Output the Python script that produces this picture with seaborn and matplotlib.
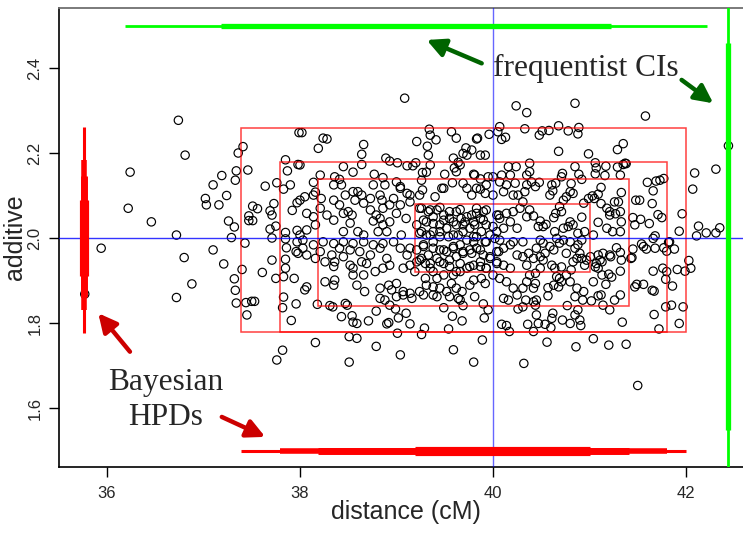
import matplotlib
matplotlib.use("Agg")
import matplotlib.pyplot as plt
import pandas as pd
import seaborn as sns

# Posterior draws of the QTL: location (cM) and additive effect
distance = [
    36.74, 36.81, 36.24, 36.22, 36.46, 36.72, 37.41, 37.36, 37.46, 37.34, 37.33, 37.19, 37.10, 37.02, 37.03,
    37.16, 37.24, 37.26, 37.32, 37.29, 37.51, 37.56, 37.47, 37.51, 37.47, 37.64, 37.76, 37.83, 37.90, 37.85,
    37.87, 37.98, 37.99, 37.73, 37.69, 37.71, 37.92, 37.97, 37.75, 37.69, 37.85, 37.97, 37.71,
    35.94, 36.80, 37.10, 37.21, 36.88, 36.72, 37.32, 37.40, 37.33, 37.34, 37.44, 37.50, 37.53, 37.45, 37.43,
    37.61, 37.71, 37.75, 37.83, 37.85, 37.85, 37.86, 37.94, 37.83, 37.82, 37.96, 37.91, 37.82, 37.76, 37.96,
    37.98, 37.85, 37.97, 35.77,
    40.85, 40.35, 41.58, 40.33, 40.48, 40.51, 40.58, 40.68, 40.78, 40.88, 40.89, 40.68, 40.99, 41.29, 41.35,
    42.44, 42.31, 42.09, 42.07, 41.96, 42.13, 42.35, 42.31, 42.21, 42.11, 41.93, 41.60, 41.66, 41.69, 41.73,
    41.77, 41.65, 41.71, 41.75, 41.62, 41.53, 41.48, 41.52, 41.45, 41.47, 41.68, 41.37, 41.38, 41.35, 41.29,
    41.32, 41.17, 41.16, 41.07, 41.06, 41.06, 40.85, 40.89, 40.92, 40.72, 40.71, 40.38, 40.38, 40.35, 40.48,
    40.44, 40.40, 40.33, 40.35, 40.61, 40.65, 40.62, 40.59, 40.81, 40.80, 40.83, 41.12, 41.09, 41.05, 41.03,
    41.30, 41.26, 41.33, 41.12, 41.18, 41.21, 41.21, 41.27, 41.32, 41.33, 41.32, 41.09, 41.18, 41.24, 40.92,
    40.80, 40.78, 40.83, 40.69, 40.71, 40.65, 40.63, 40.49, 40.52, 40.55, 40.47, 40.38, 40.42, 40.35, 40.31,
    40.28, 40.95, 40.88, 41.04, 40.73, 40.64, 40.73, 40.76, 40.99, 40.94,
    41.82, 41.88, 42.03, 42.05, 41.99, 41.91, 41.80, 41.79, 41.86, 41.76, 41.66, 41.97, 41.85, 41.79, 41.93,
    41.72, 41.67, 41.65, 41.67, 41.56, 41.49, 41.47, 41.34, 41.38, 41.20, 41.04, 40.86, 40.56, 40.32, 41.50,
    41.80, 41.83, 41.77, 41.68, 41.66, 41.56, 41.59, 41.54, 41.45, 41.44, 41.43, 41.32, 41.33, 41.32, 41.28,
    41.21, 41.22, 41.14, 41.13, 41.13, 41.20, 41.23, 41.17, 41.04, 41.32, 41.26, 41.14, 41.21, 41.09, 41.12,
    41.02, 40.93, 40.94, 40.87, 40.85, 40.88, 40.85, 40.90, 40.91, 40.77, 40.80, 40.72, 40.62, 40.61, 40.60,
    40.54, 40.47, 40.42, 40.36, 40.45, 40.44, 40.42, 40.45, 40.34, 40.31, 40.57, 40.57, 40.63, 40.68, 40.71,
    40.80, 40.76, 40.66, 40.69, 40.44, 40.35, 40.31, 40.42, 40.81, 40.71, 40.83, 40.87, 40.76, 40.90, 40.97,
    41.01, 41.07, 41.09, 41.06, 41.11, 41.09, 40.49, 40.52, 40.54, 40.63, 40.59, 40.64, 40.61, 40.49, 40.44,
    40.38, 40.35, 40.31, 40.37, 40.42, 40.45, 40.52, 40.69, 40.80, 40.88, 40.92, 40.73, 40.66, 40.49, 40.31,
    40.85, 40.92, 40.95,
    39.085, 40.24, 38.02, 38.24, 38.28, 38.19, 38.66, 38.64, 38.64, 39.34, 39.35, 39.32, 39.33, 39.41, 39.21,
    39.57, 39.62, 39.72, 39.78, 39.69, 39.73, 39.84, 39.83, 39.96, 40.07, 40.05, 40.13, 40.09, 39.87, 39.92,
    38.89, 38.93, 39.01, 39.11, 39.17, 39.20, 39.35, 39.59, 39.64, 39.66, 39.62, 39.60, 38.45, 38.55, 38.36,
    38.41, 38.21, 38.14, 38.00, 38.77, 38.86, 38.88, 39.00, 39.04, 39.11, 39.04, 39.14, 39.27, 39.31, 39.26,
    39.27, 39.24, 39.40, 39.47, 39.49, 39.50, 39.58, 39.69, 39.73, 39.80, 39.81, 39.87, 39.83, 39.87, 39.78,
    40.00, 40.09, 40.18, 40.16, 40.24, 40.21, 40.11, 40.00, 39.92, 38.76, 38.83, 38.85, 38.73, 38.64, 38.60,
    38.55, 38.57, 38.47, 38.35, 38.35, 38.43, 38.14, 38.16, 38.22, 38.05, 38.00, 38.07, 38.14, 38.16, 38.07,
    38.00, 38.28, 38.35, 38.45, 38.50, 38.54, 38.52, 38.45, 38.60, 38.66, 38.76, 38.83, 38.86, 38.93, 39.00,
    39.10, 39.05, 38.90, 38.81, 39.24, 39.33, 39.38, 39.31, 39.42, 39.49, 39.55, 39.62, 39.67, 39.71, 39.62,
    39.52, 39.45, 39.38, 39.31, 39.59, 39.69, 39.76, 39.81, 39.78, 39.83, 39.90, 39.87, 39.93, 39.88, 39.80,
    39.97, 40.04, 40.07, 40.06, 40.14, 40.21, 40.18, 40.25, 40.11, 39.21, 39.26, 39.45, 39.95, 40.07, 39.93,
    40.14, 40.23, 40.26, 39.14, 39.04, 38.97, 38.93, 38.86, 38.79, 38.73, 38.66, 38.41, 38.21,
    38.16, 38.51, 38.51, 38.59, 38.79, 39.04, 39.01, 39.26, 39.29, 39.54, 39.59, 39.80, 39.89, 40.09, 40.14,
    40.17, 38.43, 38.55, 38.59, 38.54, 38.71, 38.90, 38.92, 39.02, 39.14, 39.10, 38.99, 38.79, 38.49, 38.47,
    38.31, 38.34, 38.18, 39.49, 39.58, 39.68, 39.91, 39.95, 39.90, 39.69, 39.66, 39.81, 40.11, 40.16, 40.26,
    39.55, 39.64, 39.42, 39.38, 39.28, 39.16, 39.07, 39.00, 38.88, 38.83, 38.93,
    38.03, 38.07, 38.16, 38.26, 38.35, 38.36, 38.33, 38.45, 38.52, 38.55, 38.64, 38.69, 38.83, 38.90, 38.93,
    39.04, 39.11, 39.07, 39.14, 39.19, 39.21, 38.86, 38.78, 38.66, 38.55, 38.26, 38.35, 38.36, 38.07, 38.05,
    38.59, 38.67, 38.83, 38.92, 38.95, 39.00, 39.07, 39.14, 39.24, 39.31, 39.30, 39.38, 39.45, 39.52, 39.57,
    39.62, 39.68, 39.76, 39.80, 39.88, 39.92, 40.00, 40.07, 40.14, 40.21, 40.25, 40.18, 40.11, 40.04, 39.93,
    39.87, 39.80, 39.73, 39.66, 39.59, 39.49, 39.42, 39.35, 39.30, 39.26, 39.33, 39.42, 39.49, 39.55, 39.62,
    39.69, 39.76, 39.83, 39.90, 39.97, 40.04, 40.11, 40.18, 40.25, 40.21, 40.07, 39.93, 39.80, 39.66, 39.59,
    39.52, 39.45, 39.38, 39.28, 39.21, 39.14, 38.97, 38.86, 38.76, 38.66, 38.55, 38.45, 38.35, 38.24, 38.14,
    38.03, 38.62, 38.73, 38.21, 38.52, 38.41,
    39.26, 39.35, 39.45, 39.55, 39.66, 39.73, 39.83, 39.93, 40.04, 39.28, 39.38, 39.49, 39.59, 39.69, 39.80,
    39.90, 40.00, 39.24, 39.35, 39.45, 39.54, 39.64, 39.73, 39.83, 39.92, 40.02, 39.28, 39.38, 39.49, 39.59,
    39.69, 39.78, 39.87, 39.97, 40.06, 39.24, 39.35, 39.45, 39.55, 39.66, 39.76, 39.87, 39.93, 40.04, 39.38,
    39.62,
]
additive = [
    2.277, 2.195, 2.155, 2.070, 2.038, 2.007, 2.215, 2.200, 2.160, 2.158, 2.136, 2.147, 2.125, 2.093, 2.078,
    2.078, 2.100, 2.040, 2.026, 2.001, 2.075, 2.069, 2.052, 2.041, 2.041, 2.122, 2.130, 2.115, 2.125, 2.184,
    2.158, 2.173, 2.248, 2.081, 2.064, 2.054, 2.065, 2.083, 2.028, 2.021, 2.013, 2.018, 2.000,
    1.976, 1.954, 1.972, 1.939, 1.892, 1.860, 1.904, 1.926, 1.877, 1.847, 1.848, 1.851, 1.851, 1.819, 1.988,
    1.919, 1.948, 1.905, 1.909, 1.929, 1.950, 1.977, 1.905, 1.861, 1.836, 1.845, 1.806, 1.736, 1.713, 1.968,
    1.964, 1.998, 1.991, 1.868,
    2.317, 2.295, 2.287, 2.257, 2.242, 2.252, 2.253, 2.264, 2.252, 2.245, 2.260, 2.204, 2.198, 2.208, 2.222,
    2.217, 2.162, 2.153, 2.115, 2.057, 2.028, 2.024, 2.012, 2.012, 2.005, 2.016, 2.131, 2.111, 2.134, 2.136,
    2.140, 2.081, 2.055, 2.048, 2.034, 2.044, 2.089, 2.089, 2.048, 2.031, 2.005, 2.176, 2.175, 2.173, 2.167,
    2.148, 2.169, 2.147, 2.165, 2.151, 2.177, 2.168, 2.150, 2.138, 2.152, 2.144, 2.176, 2.156, 2.148, 2.131,
    2.121, 2.132, 2.109, 2.125, 2.125, 2.129, 2.111, 2.101, 2.128, 2.109, 2.105, 2.119, 2.103, 2.093, 2.099,
    2.085, 2.085, 2.107, 2.081, 2.070, 2.062, 2.054, 2.057, 2.062, 2.038, 2.015, 2.037, 2.023, 2.015, 2.049,
    2.038, 2.027, 2.031, 2.074, 2.062, 2.058, 2.048, 2.040, 2.027, 2.032, 2.027, 2.066, 2.052, 2.050, 2.085,
    2.070, 2.015, 2.011, 2.007, 2.023, 2.015, 2.089, 2.097, 2.093, 2.082,
    1.990, 1.974, 1.947, 1.929, 1.922, 1.926, 1.921, 1.903, 1.887, 1.929, 1.922, 1.838, 1.842, 1.838, 1.799,
    1.786, 1.820, 1.877, 1.875, 1.891, 1.891, 1.885, 1.802, 1.750, 1.748, 1.763, 1.744, 1.755, 1.705, 1.653,
    1.969, 1.991, 1.977, 1.976, 1.999, 1.980, 1.974, 1.986, 1.974, 1.954, 1.952, 1.966, 1.948, 1.922, 1.977,
    1.960, 1.956, 1.964, 1.944, 1.913, 1.915, 1.908, 1.891, 1.897, 1.866, 1.854, 1.842, 1.831, 1.864, 1.866,
    1.852, 1.854, 1.874, 1.882, 1.862, 1.831, 1.819, 1.807, 1.794, 1.841, 1.799, 1.807, 1.823, 1.811, 1.789,
    1.797, 1.799, 1.780, 1.797, 1.819, 1.842, 1.850, 1.854, 1.854, 1.838, 1.864, 1.883, 1.889, 1.885, 1.897,
    1.897, 1.913, 1.909, 1.905, 1.893, 1.897, 1.882, 1.882, 1.925, 1.932, 1.944, 1.952, 1.964, 1.964, 1.948,
    1.956, 1.940, 1.929, 1.932, 1.948, 1.960, 1.956, 1.948, 1.964, 1.972, 1.980, 1.929, 1.936, 1.929, 1.917,
    1.913, 1.936, 1.956, 1.964, 1.952, 1.976, 1.988, 1.988, 1.991, 1.984, 1.995, 1.995, 1.999, 1.995, 1.991,
    1.976, 1.952, 1.936,
    2.329, 2.311, 2.248, 2.235, 2.233, 2.211, 2.220, 2.197, 2.173, 2.256, 2.242, 2.216, 2.195, 2.231, 2.227,
    2.250, 2.235, 2.212, 2.207, 2.199, 2.195, 2.235, 2.233, 2.244, 2.262, 2.250, 2.237, 2.232, 2.195, 2.195,
    2.188, 2.181, 2.177, 2.170, 2.170, 2.177, 2.172, 2.188, 2.178, 2.172, 2.156, 2.165, 2.168, 2.155, 2.144,
    2.138, 2.148, 2.131, 2.172, 2.150, 2.142, 2.125, 2.132, 2.121, 2.105, 2.117, 2.101, 2.154, 2.155, 2.136,
    2.113, 2.101, 2.097, 2.117, 2.117, 2.150, 2.130, 2.129, 2.117, 2.150, 2.148, 2.139, 2.117, 2.115, 2.101,
    2.144, 2.148, 2.148, 2.168, 2.168, 2.101, 2.109, 2.101, 2.105, 2.125, 2.101, 2.089, 2.093, 2.101, 2.109,
    2.109, 2.089, 2.101, 2.125, 2.089, 2.125, 2.101, 2.108, 2.093, 2.097, 2.089, 2.058, 2.050, 2.031, 2.019,
    2.007, 2.054, 2.042, 2.058, 2.062, 2.054, 2.035, 2.015, 2.015, 2.007, 2.040, 2.046, 2.031, 2.038, 2.058,
    2.046, 2.007, 2.015, 2.015, 2.070, 2.062, 2.050, 2.038, 2.066, 2.054, 2.046, 2.062, 2.046, 2.038, 2.031,
    2.023, 2.031, 2.015, 2.007, 2.007, 2.015, 2.023, 2.031, 2.054, 2.070, 2.062, 2.046, 2.031, 2.015, 2.003,
    2.007, 2.015, 2.046, 2.054, 2.058, 2.062, 2.038, 2.023, 2.023, 2.031, 2.015, 2.003, 2.144, 2.132, 2.125,
    2.125, 2.129, 2.101, 2.085, 2.078, 2.093, 2.078, 2.070, 2.054, 2.066, 2.082, 2.078, 2.070,
    1.754, 1.708, 1.768, 1.764, 1.745, 1.725, 1.776, 1.773, 1.788, 1.786, 1.737, 1.708, 1.760, 1.797, 1.794,
    1.780, 1.815, 1.802, 1.799, 1.817, 1.805, 1.798, 1.801, 1.812, 1.798, 1.823, 1.833, 1.828, 1.842, 1.846,
    1.841, 1.838, 1.844, 1.836, 1.816, 1.805, 1.812, 1.831, 1.845, 1.841, 1.854, 1.862, 1.858, 1.854, 1.833,
    1.862, 1.858, 1.862, 1.866, 1.866, 1.858, 1.866, 1.862, 1.854, 1.858, 1.842,
    1.976, 1.960, 1.952, 1.944, 1.933, 1.944, 1.960, 1.956, 1.936, 1.929, 1.944, 1.940, 1.976, 1.952, 1.936,
    1.976, 1.960, 1.929, 1.936, 1.921, 1.944, 1.929, 1.921, 1.913, 1.913, 1.897, 1.889, 1.901, 1.885, 1.878,
    1.889, 1.874, 1.882, 1.889, 1.878, 1.893, 1.874, 1.870, 1.874, 1.889, 1.905, 1.885, 1.882, 1.874, 1.893,
    1.882, 1.874, 1.889, 1.901, 1.905, 1.893, 1.913, 1.905, 1.897, 1.882, 1.866, 1.929, 1.936, 1.944, 1.929,
    1.933, 1.936, 1.929, 1.921, 1.913, 1.913, 1.905, 1.929, 1.940, 1.952, 1.960, 1.952, 1.940, 1.948, 1.956,
    1.964, 1.972, 1.976, 1.960, 1.952, 1.968, 1.976, 1.984, 1.960, 1.991, 1.995, 1.991, 1.991, 1.984, 1.976,
    1.968, 1.972, 1.991, 1.984, 1.972, 1.976, 1.991, 1.987, 1.984, 1.991, 1.987, 1.991, 1.987, 1.991, 1.984,
    1.995, 1.968, 1.960, 1.968, 1.972, 1.976,
    2.070, 2.066, 2.072, 2.062, 2.067, 2.050, 2.058, 2.066, 2.054, 2.042, 2.034, 2.042, 2.038, 2.031, 2.038,
    2.042, 2.027, 2.011, 2.007, 2.015, 2.003, 2.007, 1.995, 2.003, 1.991, 1.999, 1.980, 1.976, 1.972, 1.980,
    1.968, 1.964, 1.972, 1.956, 1.968, 1.948, 1.940, 1.944, 1.933, 1.940, 1.933, 1.944, 1.929, 1.940, 1.921,
    1.921,
]

# Bayesian HPD regions, nested from the widest level to the narrowest
hpd_dist_lo = [37.39, 37.79, 38.19, 39.19]
hpd_dist_hi = [42.00, 41.80, 41.41, 41.01]
box_add_lo = [1.780, 1.780, 1.840, 1.921]
box_add_hi = [2.260, 2.180, 2.139, 2.080]
bar_add_lo = [1.776, 1.831, 1.861, 1.911]
bar_add_hi = [2.262, 2.184, 2.146, 2.089]
hpd_widths = [2.2, 4.0, 5.0, 6.6]

# Frequentist confidence intervals (wide, narrow)
ci_dist_lo = [36.19, 37.18]
ci_dist_hi = [42.22, 41.22]
ci_add_lo = [1.40, 1.548]
ci_add_hi = [2.60, 2.459]
ci_widths = [2.0, 3.8]

true_distance = 40.0
true_additive = 2.0

x_ticks = [36, 38, 40, 42]
y_ticks = [1.6, 1.8, 2.0, 2.2, 2.4]

sns.set_style("white")
plt.rcParams["font.family"] = ["Liberation Sans", "DejaVu Sans"]

fig = plt.figure(figsize=(7.43, 5.33), dpi=100)
ax = fig.add_axes([59 / 743, 66 / 533, 684 / 743, 459 / 533])

draws = pd.DataFrame({"distance": distance, "additive": additive})
sns.scatterplot(data=draws, x="distance", y="additive", ax=ax, marker="o", s=36,
                facecolor="none", edgecolor="black", linewidth=0.85, zorder=2)

# nested HPD boxes
for x0, x1, y0, y1 in zip(hpd_dist_lo, hpd_dist_hi, box_add_lo, box_add_hi):
    ax.add_patch(plt.Rectangle((x0, y0), x1 - x0, y1 - y0, fill=False,
                               edgecolor="#ff0000", alpha=0.75, linewidth=1.1, zorder=3))

# true values
ax.axvline(true_distance, color="#0000ff", alpha=0.6, linewidth=1.0, zorder=4)
ax.axhline(true_additive, color="#0000ff", alpha=0.8, linewidth=1.0, zorder=4)

# marginal HPD bars
bar_x = 35.767
bar_y = 1.5
for x0, x1, y0, y1, w in zip(hpd_dist_lo, hpd_dist_hi, bar_add_lo, bar_add_hi, hpd_widths):
    ax.plot([x0, x1], [bar_y, bar_y], color="#ff0000", linewidth=w, solid_capstyle="butt", zorder=5)
    ax.plot([bar_x, bar_x], [y0, y1], color="#ff0000", linewidth=w, solid_capstyle="butt", zorder=5)

# frequentist interval bars
ci_y = 2.5
ci_x = 42.435
for x0, x1, y0, y1, w in zip(ci_dist_lo, ci_dist_hi, ci_add_lo, ci_add_hi, ci_widths):
    ax.plot([x0, x1], [ci_y, ci_y], color="#00ff00", linewidth=w, solid_capstyle="butt", zorder=5)
    ax.plot([ci_x, ci_x], [y0, y1], color="#00ff00", linewidth=w, solid_capstyle="butt", zorder=5)

# annotations
serif = ["Liberation Serif", "DejaVu Serif"]
ax.text(40.964, 2.381, "frequentist CIs", family=serif, fontsize=22.6,
        ha="center", va="baseline", zorder=6)
ax.text(36.606, 1.642, "Bayesian", family=serif, fontsize=22.6, ha="center", va="baseline", zorder=6)
ax.text(36.606, 1.560, "HPDs", family=serif, fontsize=22.6, ha="center", va="baseline", zorder=6)

green_arrow = dict(arrowstyle="-|>,head_length=1.1,head_width=0.55", color="#006400",
                   linewidth=3.2, shrinkA=0, shrinkB=0)
red_arrow = dict(arrowstyle="-|>,head_length=1.1,head_width=0.55", color="#cc0000",
                 linewidth=3.2, shrinkA=0, shrinkB=0)
ax.annotate("", xy=(39.313, 2.466), xytext=(39.883, 2.411), arrowprops=green_arrow, zorder=6)
ax.annotate("", xy=(42.283, 2.317), xytext=(41.955, 2.372), arrowprops=green_arrow, zorder=6)
ax.annotate("", xy=(35.91, 1.823), xytext=(36.238, 1.7325), arrowprops=red_arrow, zorder=6)
ax.annotate("", xy=(37.64, 1.532), xytext=(37.19, 1.579), arrowprops=red_arrow, zorder=6)

ax.set_xlim(35.503, 42.591)
ax.set_ylim(1.4612, 2.5412)
ax.set_xticks(x_ticks)
ax.set_xticklabels([f"{t:g}" for t in x_ticks])
ax.set_yticks(y_ticks)
ax.set_yticklabels([f"{t:.1f}" for t in y_ticks], rotation=90, va="center")
ax.tick_params(axis="both", direction="out", length=7, width=1.0, color="black",
               labelsize=12, pad=5, left=True, bottom=True)
ax.tick_params(axis="x", pad=7)

for side in ["left", "bottom"]:
    ax.spines[side].set_color("black")
    ax.spines[side].set_linewidth(1.2)
ax.spines["top"].set_color("#707070")
ax.spines["top"].set_linewidth(1.3)
ax.spines["right"].set_visible(False)

ax.set_xlabel("distance (cM)", fontsize=18)
ax.set_ylabel("additive", fontsize=18)
ax.xaxis.set_label_coords(0.507, -0.072)
ax.yaxis.set_label_coords(-0.047, 0.5)
ax.grid(False)

fig.savefig("out.png", dpi=100)
